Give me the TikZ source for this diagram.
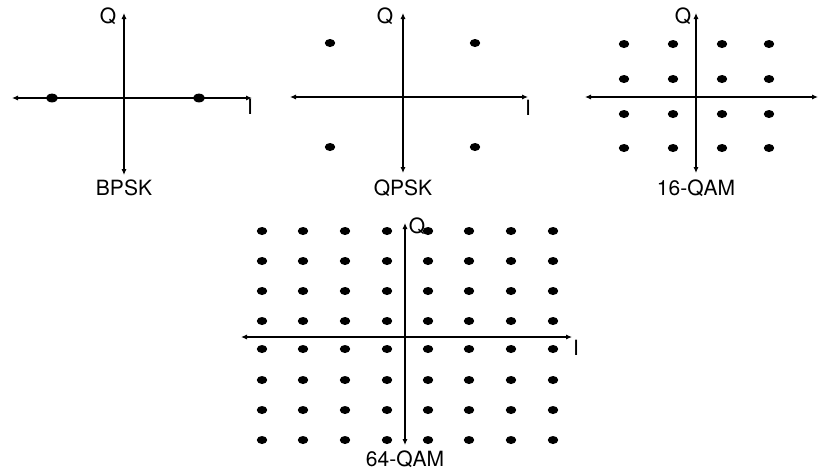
\documentclass[tikz,border=0pt]{standalone}
\usepackage{fontspec}
\setmainfont{TeX Gyre Heros}
\usetikzlibrary{arrows.meta,shapes.geometric}

\tikzset{
    axis/.style={line width=0.8pt,
        {Latex[length=3pt,width=2.6pt]}-{Latex[length=3pt,width=2.6pt]}},
    dot/.style={ellipse, fill=black, inner sep=0pt,
        minimum width=5.2pt, minimum height=4pt},
    bigdot/.style={dot, minimum width=6pt, minimum height=4.4pt},
    lbl/.style={font=\fontsize{10.5}{12}\selectfont, inner sep=1pt},
}

\begin{document}
\begin{tikzpicture}[x=0.5pt, y=-0.5pt]
    \useasboundingbox (0,0) rectangle (819,468);

    % BPSK
    \coordinate (bpskW) at (12,98);   \coordinate (bpskE) at (252,98);
    \coordinate (bpskN) at (124,13);  \coordinate (bpskS) at (124,175);
    \draw[axis] (bpskW) -- (bpskE);
    \draw[axis] (bpskS) -- (bpskN);
    \node[bigdot] (bpsk1) at (52,98)  {};
    \node[bigdot] (bpsk2) at (199,98) {};
    \node[lbl] (bpskQ) at (108,16)  {Q};
    \node[lbl] (bpskI) at (250,107) {I};
    \node[lbl] (bpskT) at (124,188) {BPSK};

    % QPSK
    \coordinate (qpskW) at (290,97);  \coordinate (qpskE) at (528,97);
    \coordinate (qpskN) at (403,13);  \coordinate (qpskS) at (403,173);
    \draw[axis] (qpskW) -- (qpskE);
    \draw[axis] (qpskS) -- (qpskN);
    \node[dot] (qpsk1) at (330,43)  {};
    \node[dot] (qpsk2) at (475,43)  {};
    \node[dot] (qpsk3) at (330,147) {};
    \node[dot] (qpsk4) at (475,147) {};
    \node[lbl] (qpskQ) at (385,16)  {Q};
    \node[lbl] (qpskI) at (528,108) {I};
    \node[lbl] (qpskT) at (403,188) {QPSK};

    % 16-QAM
    \coordinate (qamaW) at (585,97);  \coordinate (qamaE) at (818,97);
    \coordinate (qamaN) at (696,13);  \coordinate (qamaS) at (696,173);
    \draw[axis] (qamaW) -- (qamaE);
    \draw[axis] (qamaS) -- (qamaN);
    \foreach \x [count=\i] in {624,673,722,769}
        \foreach \y [count=\j] in {44,79,114,148}
            \node[dot] (qama-\i-\j) at (\x,\y) {};
    \node[lbl] (qamaQ) at (683,16)  {Q};
    \node[lbl] (qamaT) at (696,188) {16-QAM};

    % 64-QAM
    \coordinate (qambW) at (241,337); \coordinate (qambE) at (572,337);
    \coordinate (qambN) at (405,223); \coordinate (qambS) at (405,445);
    \draw[axis] (qambW) -- (qambE);
    \draw[axis] (qambS) -- (qambN);
    \foreach \x [count=\i] in {262,303,345,387,428,469,511,553}
        \foreach \y [count=\j] in {231,261,291,321,349,380,410,440}
            \node[dot] (qamb-\i-\j) at (\x,\y) {};
    \node[lbl] (qambQ) at (417,226) {Q};
    \node[lbl] (qambI) at (576,348) {I};
    \node[lbl] (qambT) at (405,459) {64-QAM};
\end{tikzpicture}
\end{document}
